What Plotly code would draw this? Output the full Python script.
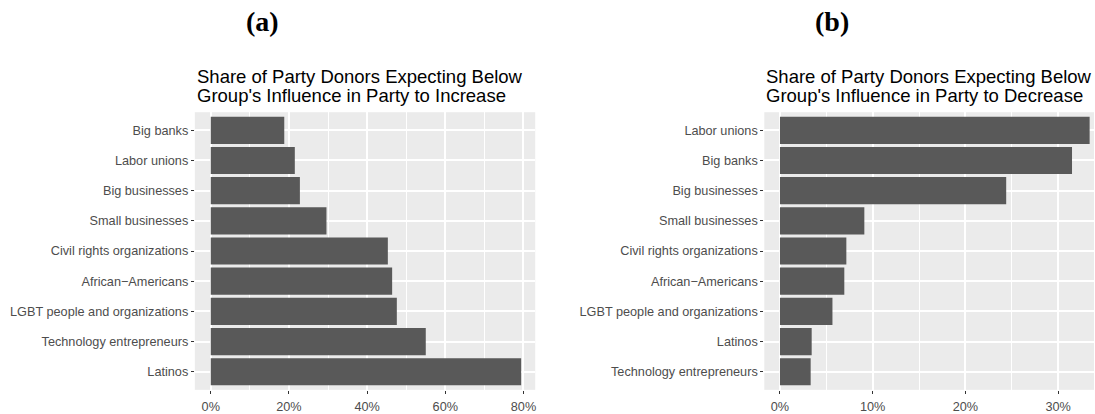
import plotly.graph_objects as go

# Panel (a): groups expected to gain influence (percent of donors)
groups_increase = [
    "Big banks", "Labor unions", "Big businesses", "Small businesses",
    "Civil rights organizations", "African\u2212Americans",
    "LGBT people and organizations", "Technology entrepreneurs", "Latinos",
]
share_increase = [18.8, 21.5, 22.8, 29.6, 45.3, 46.4, 47.6, 55.0, 79.4]

# Panel (b): groups expected to lose influence (percent of donors)
groups_decrease = [
    "Labor unions", "Big banks", "Big businesses", "Small businesses",
    "Civil rights organizations", "African\u2212Americans",
    "LGBT people and organizations", "Latinos", "Technology entrepreneurs",
]
share_decrease = [33.4, 31.5, 24.4, 9.1, 7.16, 6.94, 5.66, 3.42, 3.31]

x_ticks_a = [0, 20, 40, 60, 80]
x_ticks_b = [0, 10, 20, 30]

W, H = 1095, 414
BAR = "#595959"
PANEL = "#EBEBEB"
TICK_TXT = "#4D4D4D"
TICK_MARK = "#333333"
SANS = "Liberation Sans, Arial, Helvetica, sans-serif"
SERIF = "Liberation Serif, Times New Roman, serif"

fig = go.Figure()

fig.add_trace(go.Bar(
    x=share_increase, y=groups_increase, orientation="h", width=0.9,
    marker=dict(color=BAR, line=dict(width=0)), xaxis="x", yaxis="y",
    hoverinfo="x+y",
))
fig.add_trace(go.Bar(
    x=share_decrease, y=groups_decrease, orientation="h", width=0.9,
    marker=dict(color=BAR, line=dict(width=0)), xaxis="x2", yaxis="y2",
    hoverinfo="x+y",
))

# vertical extent of both panels (pixels from the top)
top_px, bot_px = 114.7, 398.5
ydom = [(H - bot_px) / H, (H - top_px) / H]

def xaxis(dom, rng, ticks, minor_step, anchor):
    return dict(
        domain=dom, range=rng, anchor=anchor,
        tickmode="array", tickvals=ticks, ticktext=[f"{t}%" for t in ticks],
        showgrid=True, gridcolor="white", gridwidth=1.5,
        minor=dict(dtick=minor_step, tick0=0, showgrid=True,
                   gridcolor="white", gridwidth=0.7, ticklen=0),
        ticks="outside", ticklen=3, tickwidth=1, tickcolor=TICK_MARK,
        tickfont=dict(family=SANS, size=12.7, color=TICK_TXT),
        ticklabelstandoff=2,
        zeroline=False, showline=False, fixedrange=True,
    )

def yaxis(cats, anchor):
    return dict(
        domain=ydom, anchor=anchor, type="category",
        categoryorder="array", categoryarray=cats,
        range=[len(cats) - 1 + 0.6, -0.6],
        showgrid=True, gridcolor="white", gridwidth=1.5,
        ticks="outside", ticklen=3, tickwidth=1, tickcolor=TICK_MARK,
        tickfont=dict(family=SANS, size=12.7, color=TICK_TXT),
        ticklabelstandoff=0,
        zeroline=False, showline=False, fixedrange=True,
    )

left_a, right_a = 195.0, 535.7
left_b = 765.0

fig.update_layout(
    width=W, height=H,
    margin=dict(l=0, r=0, t=0, b=0),
    paper_bgcolor="white", plot_bgcolor=PANEL,
    showlegend=False, bargap=0.1,
    xaxis=xaxis([left_a / W, right_a / W], [-4.08, 83.0], x_ticks_a, 10, "y"),
    yaxis=yaxis(groups_increase, "x"),
    xaxis2=xaxis([left_b / W, 1.0], [-1.69, 33.87], x_ticks_b, 5, "y2"),
    yaxis2=yaxis(groups_decrease, "x2"),
)

def px_y(y):
    return (H - y) / H

annotations = []
# panel letters
for letter, cx in (("(a)", 263.0), ("(b)", 833.0)):
    annotations.append(dict(
        text=f"<b>{letter}</b>", x=cx / W, y=px_y(21.5), xref="paper", yref="paper",
        xanchor="center", yanchor="middle", showarrow=False,
        font=dict(family=SERIF, size=28, color="black"),
    ))
# panel titles, two lines each
titles = (
    (left_a, "Share of Party Donors Expecting Below",
     "Group's Influence in Party to Increase"),
    (left_b, "Share of Party Donors Expecting Below",
     "Group's Influence in Party to Decrease"),
)
for lx, line1, line2 in titles:
    for txt, yc in ((line1, 77.8), (line2, 98.0)):
        annotations.append(dict(
            text=txt, x=lx / W, y=px_y(yc), xref="paper", yref="paper",
            xanchor="left", yanchor="middle", showarrow=False,
            font=dict(family=SANS, size=18.5, color="black"),
        ))
fig.update_layout(annotations=annotations)

fig.write_html("out.html")
